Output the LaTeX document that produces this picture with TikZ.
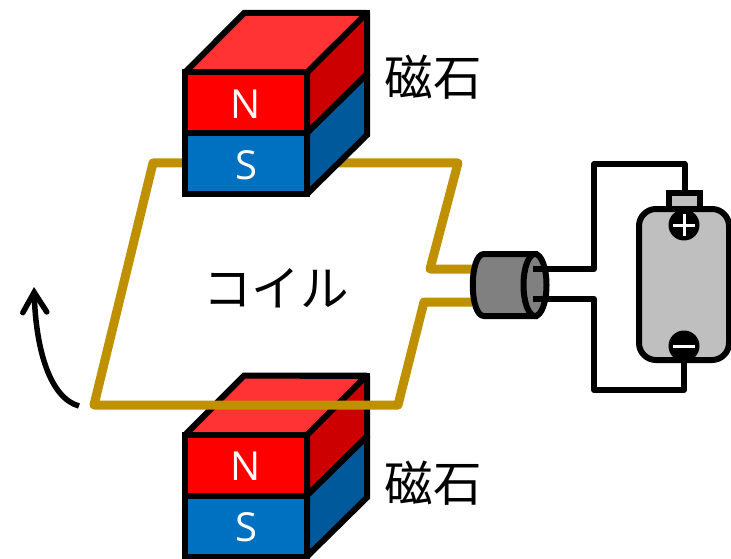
\documentclass[tikz,border=0pt]{standalone}
\usepackage{fontspec}
\setmainfont{Open Sans}
\newfontfamily\cjk{Noto Sans CJK JP}
\usetikzlibrary{shapes.geometric, arrows.meta, calc, positioning}
\definecolor{magnetred}{HTML}{FF0000}
\definecolor{magnettop}{HTML}{FF3333}
\definecolor{magnetside}{HTML}{CC0000}
\definecolor{magnetblue}{HTML}{0070C0}
\definecolor{magnetdeep}{HTML}{00599A}
\definecolor{coilgold}{HTML}{BF9000}
\definecolor{cellgray}{HTML}{BFBFBF}
\definecolor{commgray}{HTML}{808080}

\tikzset{
    face/.style={draw=black, line width=6pt, line join=miter, miter limit=1.6},
    pole/.style={text=white, font=\fontsize{40}{40}\selectfont, inner sep=0pt},
    jp/.style={font=\cjk\fontsize{48.5}{48.5}\selectfont, inner sep=0pt},
    coil/.style={draw=coilgold, line width=9pt, line join=round},
    wire/.style={draw=black, line width=6pt, line join=round},
    sign/.style={circle, fill=black, minimum size=31pt, inner sep=0pt},
    signline/.style={draw=white, line width=3pt},
    magnet/.pic={
        \filldraw[face, fill=magnettop] (185,72.5) -- (244,13) -- (367,13) -- (307,72.5) -- cycle;
        \filldraw[face, fill=magnetside] (307,72.5) -- (367,13) -- (367,74) -- (307,133) -- cycle;
        \filldraw[face, fill=magnetdeep] (307,133) -- (367,74) -- (367,135) -- (307,194) -- cycle;
        \filldraw[face, fill=magnetred] (185,72.5) rectangle (307,133);
        \filldraw[face, fill=magnetblue] (185,133) rectangle (307,194);
        \draw[face, miter limit=10] (300,13) -- (367,13) -- (367,60);
        \node[pole] (-north) at (246,104) {N};
        \node[pole] (-south) at (246,165) {S};
    }
}

\begin{document}
\begin{tikzpicture}[x=1pt, y=-1pt]
    \useasboundingbox (0,0) rectangle (731,559);

    % lower magnet lies under the coil
    \pic (lower) at (0,362.5) {magnet};

    \coordinate (coilA) at (472,269);
    \coordinate (coilB) at (430,269);
    \coordinate (coilC) at (458,163);
    \coordinate (coilD) at (153,163);
    \coordinate (coilE) at (94,405);
    \coordinate (coilF) at (398,405);
    \coordinate (coilG) at (424,302);
    \coordinate (coilH) at (472,302);
    \draw[coil] (coilA) -- (coilB) -- (coilC) -- (coilD) -- (coilE) -- (coilF) -- (coilG) -- (coilH);

    % upper magnet hides the coil
    \pic (upper) at (0,0) {magnet};

    \node[jp] (upperlabel) at (433,77) {磁石};
    \node[jp] (lowerlabel) at (433,483) {磁石};
    \node[jp] (coillabel) at (276,288) {コイル};

    % rotation arrow
    \coordinate (turnstart) at (79,406);
    \coordinate (turnend) at (34,287);
    \draw[line width=5.5pt, -{Straight Barb[length=20pt,width=24pt,line cap=round]}]
        (turnstart) .. controls (50,398) and (36,350) .. (turnend);

    % commutator
    \filldraw[draw=black, fill=commgray, line width=6pt]
        (535,254) -- (484,254) .. controls (469,254) and (469,316) .. (484,316) -- (535,316) -- cycle;
    \node[ellipse, draw=black, fill=commgray, line width=6pt, inner sep=0pt, outer sep=0pt,
        minimum width=23pt, minimum height=62pt] (commface) at (535,285) {};

    % battery
    \node[draw=black, fill=cellgray, line width=6pt, minimum width=31pt, minimum height=20pt,
        inner sep=0pt, outer sep=0pt] (terminal) at (684.5,203) {};
    \node[draw=black, fill=cellgray, line width=6pt, rounded corners=17pt, inner sep=0pt, outer sep=0pt,
        minimum width=90pt, minimum height=151pt] (battery) at (684,284.5) {};
    \node[sign] (plus) at (684,225) {};
    \node[sign] (minus) at (684,346) {};
    \draw[signline] ($(plus)+(-11,0)$) -- ($(plus)+(11,0)$);
    \draw[signline] ($(plus)+(0,-11)$) -- ($(plus)+(0,11)$);
    \draw[signline] ($(minus)+(-11,0)$) -- ($(minus)+(11,0)$);

    % wires from brushes to battery
    \coordinate (brushtop) at (533,269);
    \coordinate (brushbot) at (533,299);
    \coordinate (wiretop) at (594,164);
    \coordinate (wirebot) at (594,390);
    \draw[wire] (brushtop) -| (wiretop) -| (terminal.north);
    \draw[wire] (brushbot) -| (wirebot) -| (minus.south);
\end{tikzpicture}
\end{document}
